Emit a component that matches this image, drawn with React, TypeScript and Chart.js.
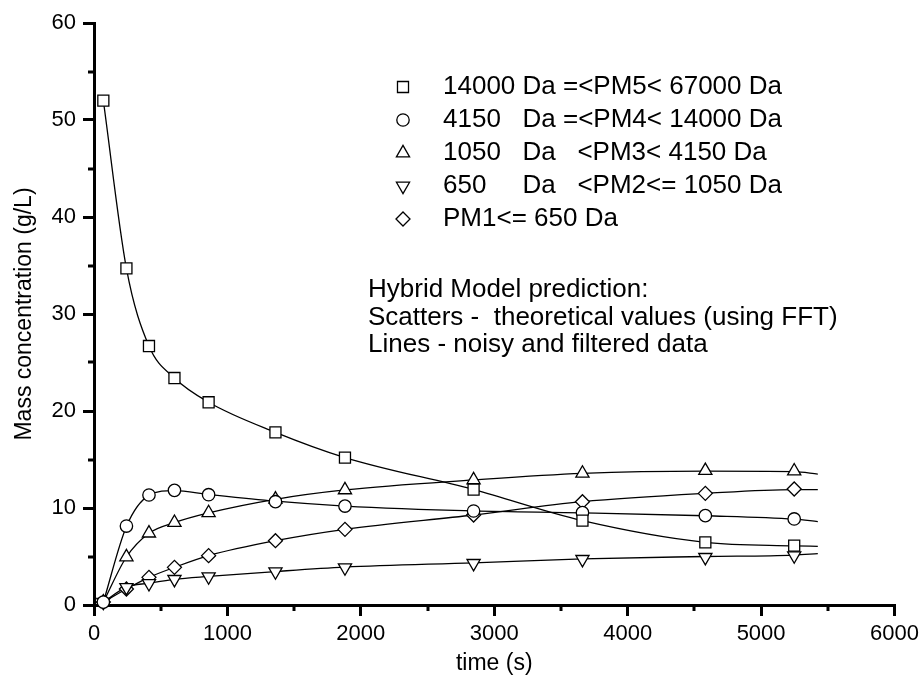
import React, { useEffect, useRef } from 'react';
import { Chart, registerables } from 'chart.js';
import { drawPoint } from 'chart.js/helpers';

Chart.register(...registerables);

const FONT = '"Liberation Sans", Arial, Helvetica, sans-serif';

// sampling times (s) of the theoretical (FFT) values
const sampleTimes = [70, 243, 412, 603, 859, 1360, 1881, 2845, 3661, 4582, 5248];
// theoretical values, g/L (scatter symbols)
const pm5Scatter = [52.0, 34.7, 26.7, 23.4, 20.9, 17.8, 15.2, 11.9, 8.7, 6.46, 6.12];
const pm4Scatter = [0.3, 8.14, 11.34, 11.82, 11.37, 10.65, 10.2, 9.69, 9.52, 9.21, 8.87];
const pm3Scatter = [0.3, 4.95, 7.4, 8.5, 9.5, 10.9, 11.86, 12.89, 13.57, 13.85, 13.8];
const pm2Scatter = [0.3, 1.82, 2.23, 2.65, 2.92, 3.44, 3.85, 4.3, 4.71, 4.92, 5.09];
const pm1Scatter = [0.3, 1.65, 2.85, 3.88, 5.09, 6.63, 7.8, 9.28, 10.65, 11.51, 11.96];

// noisy / filtered data (lines)
const lineTimes = [70, 243, 412, 603, 859, 1360, 1881, 2845, 3661, 4582, 5248, 5425];
const pm5Line = [52.0, 34.7, 26.7, 23.4, 20.9, 17.8, 15.2, 11.9, 8.7, 6.46, 6.1, 6.05];
const pm4Line = [0.3, 8.1, 11.3, 11.8, 11.4, 10.7, 10.2, 9.7, 9.5, 9.2, 8.85, 8.6];
const pm3Line = [0.3, 4.95, 7.4, 8.5, 9.5, 10.9, 11.86, 12.89, 13.57, 13.8, 13.75, 13.5];
const pm2Line = [0.3, 1.85, 2.25, 2.65, 2.95, 3.45, 3.9, 4.35, 4.75, 5.0, 5.15, 5.3];
const pm1Line = [0.3, 1.65, 2.85, 3.88, 5.09, 6.63, 7.8, 9.28, 10.65, 11.51, 11.9, 11.9];

const legendLabels = [
  '14000 Da =<PM5< 67000 Da',
  '4150   Da =<PM4< 14000 Da',
  '1050   Da   <PM3< 4150 Da',
  '650     Da   <PM2<= 1050 Da',
  'PM1<= 650 Da',
];
const annotationLines = [
  'Hybrid Model prediction:',
  'Scatters -  theoretical values (using FFT)',
  'Lines - noisy and filtered data',
];
const xMinorTicks = [500, 1500, 2500, 3500, 4500, 5500];
const yMinorTicks = [5, 15, 25, 35, 45, 55];

const markerStyles = [
  { pointStyle: 'rect', radius: 7.8, rotation: 0 },
  { pointStyle: 'circle', radius: 6.2, rotation: 0 },
  { pointStyle: 'triangle', radius: 7.6, rotation: 0 },
  { pointStyle: 'triangle', radius: 7.6, rotation: 180 },
  { pointStyle: 'rectRot', radius: 7.0, rotation: 0 },
];

const scatterSeries = [pm5Scatter, pm4Scatter, pm3Scatter, pm2Scatter, pm1Scatter];
const lineSeries = [pm5Line, pm4Line, pm3Line, pm2Line, pm1Line];

const overlayPlugin = {
  id: 'overlay',
  afterDraw(chart: any) {
    const ctx = chart.ctx as CanvasRenderingContext2D;
    const xs = chart.scales.x;
    const ys = chart.scales.y;
    ctx.save();
    ctx.strokeStyle = '#000';
    ctx.lineWidth = 3;
    xMinorTicks.forEach((v) => {
      const px = Math.round(xs.getPixelForValue(v));
      ctx.beginPath();
      ctx.moveTo(px, chart.chartArea.bottom);
      ctx.lineTo(px, chart.chartArea.bottom + 6);
      ctx.stroke();
    });
    yMinorTicks.forEach((v) => {
      const py = Math.round(ys.getPixelForValue(v));
      ctx.beginPath();
      ctx.moveTo(chart.chartArea.left, py);
      ctx.lineTo(chart.chartArea.left - 6, py);
      ctx.stroke();
    });

    // legend
    ctx.font = `26px ${FONT}`;
    ctx.fillStyle = '#000';
    ctx.textBaseline = 'middle';
    ctx.textAlign = 'left';
    legendLabels.forEach((label, i) => {
      const y = 87 + i * 33;
      ctx.save();
      ctx.fillStyle = '#fff';
      ctx.strokeStyle = '#000';
      ctx.lineWidth = 1.3;
      drawPoint(ctx, { ...markerStyles[i], borderWidth: 1.3 } as any, 403, y);
      ctx.restore();
      ctx.fillText(label, 443, y);
    });

    // annotation
    ctx.textBaseline = 'alphabetic';
    annotationLines.forEach((line, i) => {
      ctx.fillText(line, 368, 297 + i * 27.5);
    });
    ctx.restore();
  },
};

export default function App() {
  const canvasRef = useRef<HTMLCanvasElement | null>(null);

  useEffect(() => {
    if (!canvasRef.current) return;
    const datasets: any[] = [];
    lineSeries.forEach((vals) => {
      datasets.push({
        type: 'line',
        data: vals.map((v, i) => ({ x: lineTimes[i], y: v })),
        borderColor: '#000',
        borderWidth: 1.3,
        pointRadius: 0,
        cubicInterpolationMode: 'monotone',
        fill: false,
        order: 1,
      });
    });
    scatterSeries.forEach((vals, k) => {
      datasets.push({
        type: 'scatter',
        data: vals.map((v, i) => ({ x: sampleTimes[i], y: v })),
        pointStyle: markerStyles[k].pointStyle,
        pointRadius: markerStyles[k].radius,
        pointRotation: markerStyles[k].rotation,
        pointBackgroundColor: '#fff',
        pointBorderColor: '#000',
        pointBorderWidth: 1.3,
        showLine: false,
        clip: false,
        order: 0,
      });
    });

    const chart = new Chart(canvasRef.current, {
      type: 'scatter',
      data: { datasets },
      options: {
        responsive: false,
        animation: false,
        layout: { padding: { left: 0, top: 23, right: 24, bottom: 0 } },
        plugins: { legend: { display: false }, tooltip: { enabled: false } },
        scales: {
          x: {
            type: 'linear',
            min: 0,
            max: 6000,
            afterFit: (s: any) => { s.height = 83; },
            ticks: { stepSize: 1000, color: '#000', font: { family: FONT, size: 22 }, padding: 5, maxRotation: 0, callback: (v: any) => String(v) },
            grid: { drawOnChartArea: false, drawTicks: true, tickLength: 11, color: '#000', lineWidth: 3 },
            border: { display: true, color: '#000', width: 3 },
            title: { display: true, text: 'time (s)', color: '#000', font: { family: FONT, size: 23 }, padding: { top: 0, bottom: 11 } },
          },
          y: {
            type: 'linear',
            min: 0,
            max: 60,
            afterFit: (s: any) => { s.width = 94; },
            ticks: { stepSize: 10, color: '#000', font: { family: FONT, size: 22 }, padding: 7, callback: (v: any) => String(v) },
            grid: { drawOnChartArea: false, drawTicks: true, tickLength: 11, color: '#000', lineWidth: 3 },
            border: { display: true, color: '#000', width: 3 },
            title: { display: true, text: 'Mass concentration (g/L)', color: '#000', font: { family: FONT, size: 23 }, padding: { top: 11, bottom: 0 } },
          },
        },
      },
      plugins: [overlayPlugin],
    });
    return () => chart.destroy();
  }, []);

  return (
    <div style={{ position: 'absolute', left: 0, top: 0, width: 924, height: 688, background: '#fff' }}>
      <canvas ref={canvasRef} width={924} height={688} style={{ display: 'block' }} />
    </div>
  );
}
